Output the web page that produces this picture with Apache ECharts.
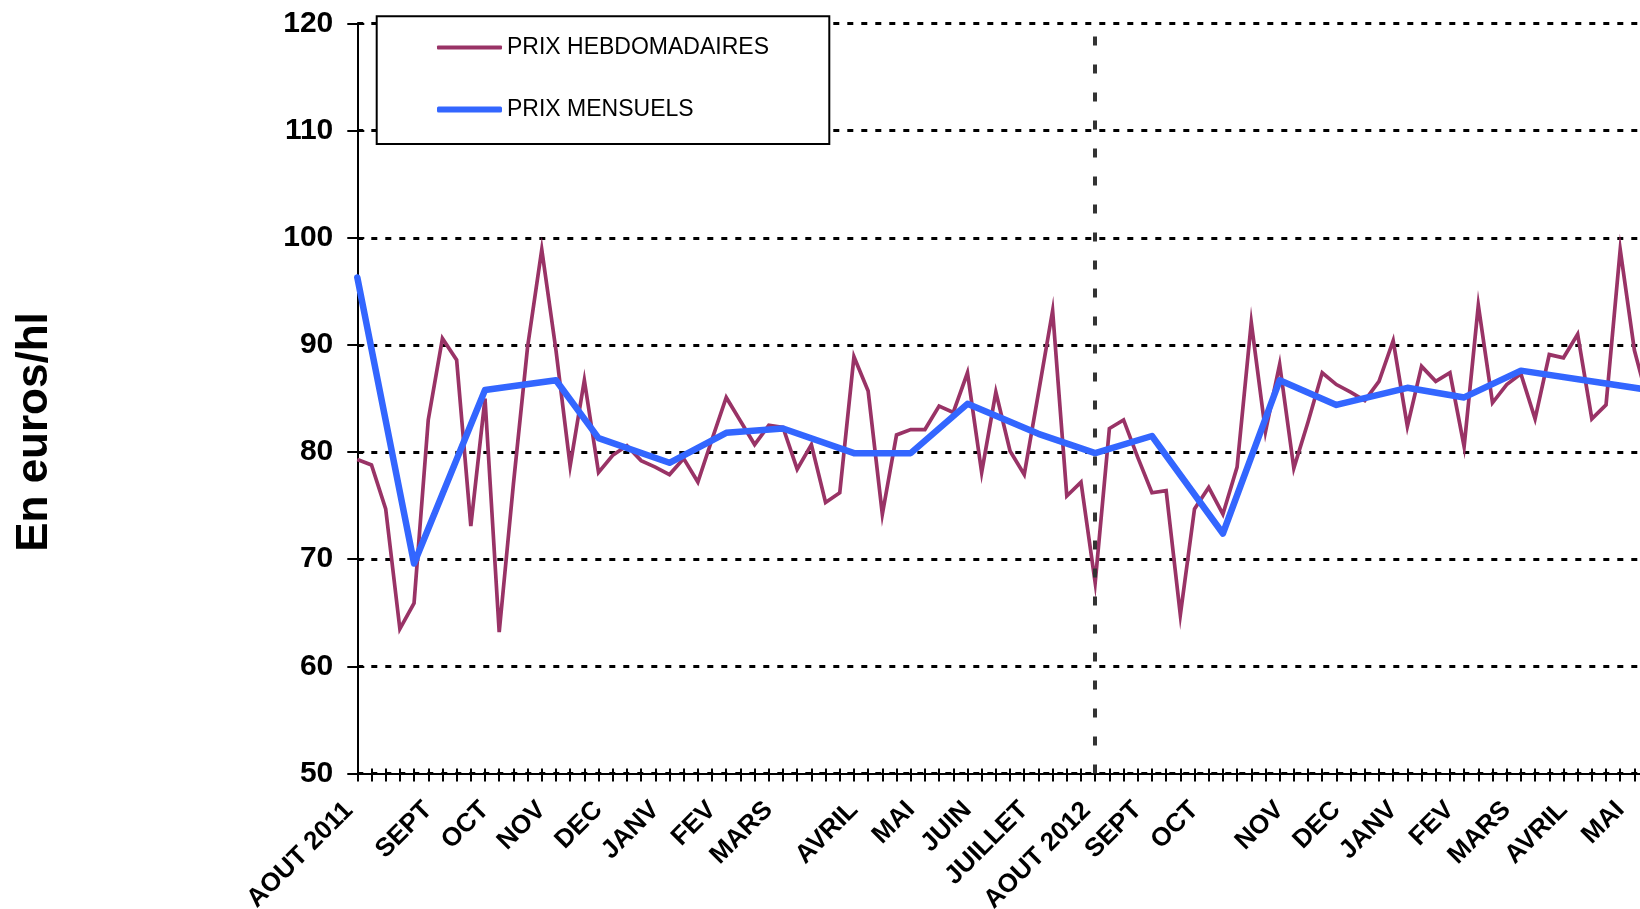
<!DOCTYPE html>
<html>
<head>
<meta charset="utf-8">
<script src="https://cdn.jsdelivr.net/npm/echarts@6/dist/echarts.min.js"></script>
<style>
html,body{margin:0;padding:0;background:#fff;}
#chart{width:1640px;height:909px;}
</style>
</head>
<body>
<div id="chart"></div>
<script>
// Weekly categories (week index 0 = first week of AOUT 2011)
const weekCount = 92;
const weeks = Array.from({length: weekCount}, (_, i) => 'S' + (i + 1));

// Month tick labels and the week at which each is shown
const monthLabels = ['AOUT 2011','SEPT','OCT','NOV','DEC','JANV','FEV','MARS','AVRIL','MAI','JUIN','JUILLET','AOUT 2012',
                     'SEPT','OCT','NOV','DEC','JANV','FEV','MARS','AVRIL','MAI'];
const monthLabelWeeks = [0,5,9,13,17,21,25,29,35,39,43,47,52,55,59,65,69,73,77,81,85,89];

// Weekly prices (euros/hl)
const weeklyPrices = [
  79.3, 78.8, 74.7, 63.5, 65.9, 83.0, 90.6, 88.6, 73.1, 85.0,
  63.2, 77.0, 89.8, 98.9, 89.5, 78.7, 86.7, 78.1, 79.7, 80.6,
  79.2, 78.6, 77.9, 79.4, 77.2, 81.2, 85.1, 82.9, 80.7, 82.5,
  82.3, 78.4, 80.7, 75.3, 76.2, 88.9, 85.7, 74.2, 81.6, 82.1,
  82.1, 84.3, 83.7, 87.4, 78.1, 85.6, 80.1, 77.9, 85.5, 93.2,
  75.9, 77.2, 67.8, 82.2, 83.0, 79.5, 76.2, 76.4, 64.8, 74.7,
  76.7, 74.2, 78.6, 92.1, 81.9, 88.2, 78.5, 82.8, 87.4, 86.3,
  85.6, 84.8, 86.6, 90.4, 82.4, 88.0, 86.6, 87.4, 80.5, 93.7,
  84.6, 86.3, 87.3, 83.1, 89.1, 88.8, 91.0, 83.1, 84.4, 98.9,
  89.5, 84.5
];

// Monthly prices and the week at which each is plotted
const monthlyWeeks  = [0, 4, 9, 14, 17, 22, 26, 30, 35, 39, 43, 48, 52, 56, 61, 65, 69, 74, 78, 82, 91];
const monthlyPrices = [96.3, 69.6, 85.8, 86.7, 81.3, 79.0, 81.8, 82.2, 79.9, 79.9, 84.5, 81.7, 79.9, 81.5, 72.4, 86.7, 84.4, 86.0, 85.1, 87.6, 85.8];

// Y axis ticks
const yMin = 50, yMax = 120, yStep = 10;
const markerWeek = 52; // AOUT 2012 separator

const labelMap = {};
monthLabelWeeks.forEach((w, i) => { labelMap[w] = monthLabels[i]; });
const monthlySeries = new Array(weekCount).fill(null);
monthlyWeeks.forEach((w, i) => { monthlySeries[w] = monthlyPrices[i]; });
const yearLabelWeeks = [0, markerWeek];

const FONT = '"Liberation Sans", Arial, sans-serif';
const NAME_W = 'PRIX HEBDOMADAIRES';
const NAME_M = 'PRIX MENSUELS';
const xLabFont = {fontFamily: FONT, fontWeight: 'bold', fontSize: 26, color: '#000'};

const chart = echarts.init(document.getElementById('chart'));
chart.setOption({
  animation: false,
  backgroundColor: '#fff',
  grid: {left: 357.3, top: 23.5, width: 1291.3, height: 750, containLabel: false, outerBoundsMode: 'none'},
  xAxis: [{
    type: 'category', data: weeks, boundaryGap: false, position: 'bottom',
    axisLine: {show: true, lineStyle: {color: '#000', width: 2}},
    axisTick: {show: true, interval: 0, length: 8, lineStyle: {color: '#000', width: 2}},
    axisLabel: Object.assign({
      show: true, interval: 0, rotate: 45, margin: 14,
      align: 'right', verticalAlign: 'top',
      formatter: (v, idx) => {
        const t = labelMap[idx];
        if (!t || yearLabelWeeks.indexOf(idx) >= 0) return '';
        return '{n|' + t + '}';
      },
      rich: {n: Object.assign({padding: [0, 13, 0, 0]}, xLabFont)}
    }, xLabFont),
    splitLine: {show: false}
  }, {
    type: 'category', data: weeks, boundaryGap: false, position: 'bottom',
    axisLine: {show: false},
    axisTick: {show: true, inside: true, interval: 0, length: 5, lineStyle: {color: '#000', width: 2}},
    axisLabel: {show: false},
    splitLine: {show: false}
  }, {
    type: 'category', data: weeks, boundaryGap: false, position: 'bottom',
    axisLine: {show: false},
    axisTick: {show: false},
    axisLabel: Object.assign({
      show: true, interval: 0, rotate: 45, margin: 6,
      align: 'right', verticalAlign: 'top',
      formatter: (v, idx) => (yearLabelWeeks.indexOf(idx) >= 0 ? '{y|' + labelMap[idx] + '}' : ''),
      rich: {y: Object.assign({padding: [0, 25, 0, 0]}, xLabFont)}
    }, xLabFont),
    splitLine: {show: false}
  }],
  yAxis: [{
    type: 'value', min: yMin, max: yMax, interval: yStep, position: 'left',
    axisLine: {show: true, lineStyle: {color: '#000', width: 2}},
    axisTick: {show: true, length: 10, lineStyle: {color: '#000', width: 2}},
    axisLabel: {margin: 24, fontFamily: FONT, fontWeight: 'bold', fontSize: 30, color: '#000'},
    splitLine: {show: true, lineStyle: {color: '#000', width: 3, type: [6, 8]}}
  }, {
    type: 'value', min: yMin, max: yMax, interval: yStep, position: 'left',
    axisLine: {show: false},
    axisTick: {show: true, inside: true, length: 7, lineStyle: {color: '#000', width: 2}},
    axisLabel: {show: false},
    splitLine: {show: false}
  }],
  legend: [{
    data: [{name: NAME_W, icon: 'roundRect'}],
    left: 437, top: 35.5, padding: 0, itemWidth: 65, itemHeight: 4,
    selectedMode: false, z: 10,
    textStyle: {fontFamily: FONT, fontSize: 23, color: '#000', lineHeight: 24}
  }, {
    data: [{name: NAME_M, icon: 'roundRect'}],
    left: 437, top: 97.5, padding: 0, itemWidth: 65, itemHeight: 6,
    selectedMode: false, z: 10,
    textStyle: {fontFamily: FONT, fontSize: 23, color: '#000', lineHeight: 24}
  }],
  graphic: [{
    type: 'rect', z: 5,
    shape: {x: 376.7, y: 16.3, width: 452.6, height: 127.7},
    style: {fill: '#fff', stroke: '#000', lineWidth: 2}
  }, {
    type: 'text', z: 5, x: 35, y: 432, rotation: Math.PI / 2,
    style: {text: 'En euros/hl', fontFamily: FONT, fontWeight: 'bold', fontSize: 44, fill: '#000',
            align: 'center', verticalAlign: 'middle', textAlign: 'center', textVerticalAlign: 'middle'}
  }],
  series: [{
    name: NAME_W, type: 'line', data: weeklyPrices, xAxisIndex: 0, yAxisIndex: 0,
    showSymbol: false, symbol: 'none',
    itemStyle: {color: '#993366'},
    lineStyle: {color: '#993366', width: 3.7, join: 'miter'},
    z: 2,
    markLine: {
      silent: true, symbol: ['none', 'none'], label: {show: false},
      lineStyle: {color: '#333', width: 4, type: [9, 19]},
      data: [{xAxis: markerWeek}]
    }
  }, {
    name: NAME_M, type: 'line', data: monthlySeries, xAxisIndex: 0, yAxisIndex: 0,
    connectNulls: true, showSymbol: false, symbol: 'none',
    itemStyle: {color: '#3366FF'},
    lineStyle: {color: '#3366FF', width: 6.5, join: 'round', cap: 'round'},
    z: 3
  }]
});
</script>
</body>
</html>
